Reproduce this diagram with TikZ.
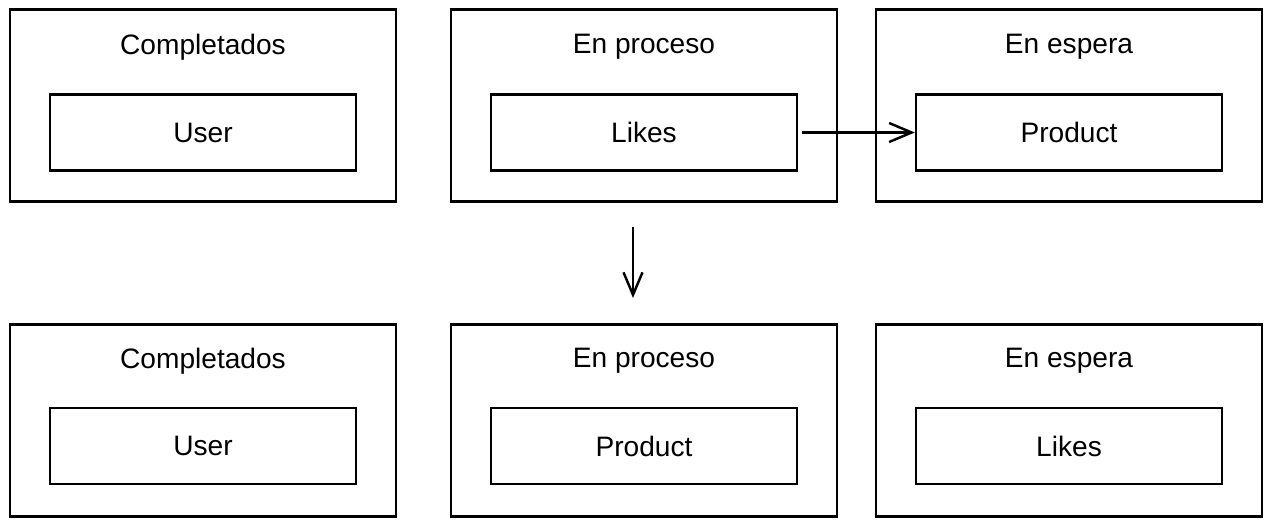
\documentclass[tikz,border=0pt]{standalone}
\usepackage{fontspec}
\setmainfont{Liberation Sans}
\usetikzlibrary{arrows.meta}

\begin{document}
\begin{tikzpicture}[x=0.02cm, y=-0.02cm,
  every node/.style={font=\fontsize{16}{19}\selectfont},
  stage/.style={draw, line width=1.4pt, minimum width=7.72cm, minimum height=3.84cm},
  task/.style={draw, line width=1.4pt, minimum width=6.12cm, minimum height=1.52cm},
  flow/.style={-{Straight Barb[length=4.5mm, width=3.8mm]}, line width=1.4pt}]
\useasboundingbox (0,0) rectangle (1272,525);

\node [stage] (doneA) at (203,105.5) {};
\node [stage] (procA) at (644,105.5) {};
\node [stage] (waitA) at (1069,105.5) {};
\node (doneAtitle) at (203,47) {Completados};
\node (procAtitle) at (644,47) {En proceso};
\node (waitAtitle) at (1069,47) {En espera};
\node [task] (userA) at (203,132.5) {User};
\node [task] (likesA) at (644,132.5) {Likes};
\node [task] (prodA) at (1069,132.5) {Product};

\draw [flow, shorten <=2pt] (likesA) -- (prodA);

%%%%%%%%%%%%%%%%%%%%%%%%%%%%%%%%%%%%%%%%

\path (633,227) coordinate (stepS);
\path (633,298) coordinate (stepE);
\draw [flow] (stepS) -- (stepE);

%%%%%%%%%%%%%%%%%%%%%%%%%%%%%%%%%%%%%%%%

\node [stage] (doneB) at (203,420.5) {};
\node [stage] (procB) at (644,420.5) {};
\node [stage] (waitB) at (1069,420.5) {};
\node (doneBtitle) at (203,361) {Completados};
\node (procBtitle) at (644,361) {En proceso};
\node (waitBtitle) at (1069,361) {En espera};
\node [task] (userB) at (203,446) {User};
\node [task] (prodB) at (644,446) {Product};
\node [task] (likesB) at (1069,446) {Likes};

\end{tikzpicture}
\end{document}
